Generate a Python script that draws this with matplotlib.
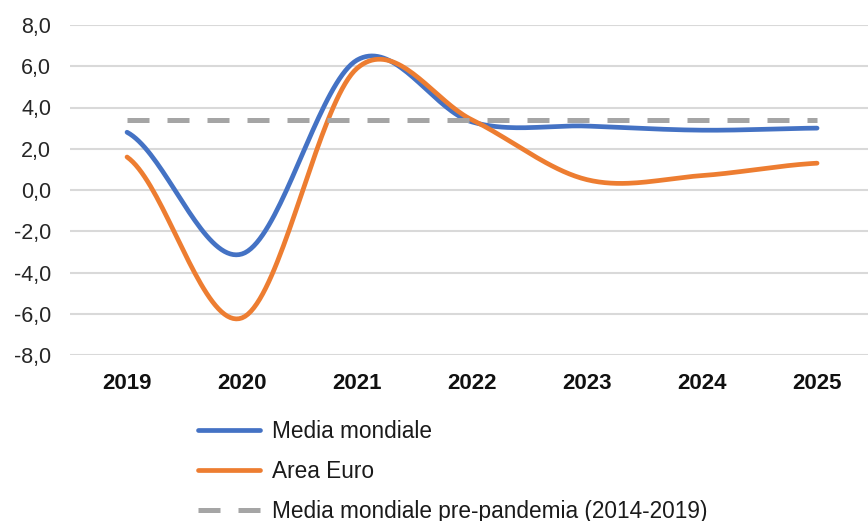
import numpy as np
from matplotlib import pyplot as plt

plt.rcParams['font.family'] = ['Liberation Sans', 'DejaVu Sans']

# dati
anni = ['2019', '2020', '2021', '2022', '2023', '2024', '2025']
media_mondiale = [2.8, -3.1, 6.3, 3.3, 3.1, 2.9, 3.0]
area_euro = [1.6, -6.2, 5.9, 3.4, 0.5, 0.7, 1.3]
pre_pandemia = [3.4, 3.4, 3.4, 3.4, 3.4, 3.4, 3.4]
y_ticks = [-8, -6, -4, -2, 0, 2, 4, 6, 8]


def smooth(y, n=40):
    """linea smussata tipo Excel (Catmull-Rom / Bezier)"""
    y = np.asarray(y, dtype=float)
    x = np.arange(len(y), dtype=float)
    xs, ys = [], []
    for i in range(len(y) - 1):
        p0 = y[max(i - 1, 0)]
        p1, p2 = y[i], y[i + 1]
        p3 = y[min(i + 2, len(y) - 1)]
        c1 = p1 + (p2 - p0) / 6
        c2 = p2 - (p3 - p1) / 6
        t = np.linspace(0, 1, n)
        b = (1 - t) ** 3 * p1 + 3 * (1 - t) ** 2 * t * c1 + 3 * (1 - t) * t ** 2 * c2 + t ** 3 * p2
        xs.append(x[i] + t)
        ys.append(b)
    return np.concatenate(xs), np.concatenate(ys)


fig = plt.figure(figsize=(8.68, 5.21), dpi=100)
ax = fig.add_axes([70 / 868, 166 / 521, 1 - 70 / 868, 330 / 521])

ax.set_ylim(-8, 8)
ax.set_xlim(-0.496, 6.443)
ax.set_yticks(y_ticks)
ax.set_yticklabels([f'{v:.1f}'.replace('.', ',') for v in y_ticks], fontsize=15.5, color='#262626')
ax.set_xticks(range(len(anni)))
ax.set_xticklabels(anni, fontsize=16, fontweight='bold', color='#111111')
ax.tick_params(axis='both', length=0)
ax.tick_params(axis='y', pad=13.5)
ax.tick_params(axis='x', pad=13)
ax.grid(axis='y', color='#d9d9d9', linewidth=1.5)
ax.set_axisbelow(True)
for s in ax.spines.values():
    s.set_visible(False)

x, y = smooth(media_mondiale)
ax.plot(x, y, color='#4472C4', linewidth=3.4, solid_capstyle='round', label='Media mondiale')
x, y = smooth(area_euro)
ax.plot(x, y, color='#ED7D31', linewidth=3.4, solid_capstyle='round', label='Area Euro')
ax.plot(range(len(anni)), pre_pandemia, color='#A5A5A5', linewidth=3.6,
        linestyle=(0, (4.4, 3.6)), label='Media mondiale pre-pandemia (2014-2019)')

leg = fig.legend(loc='upper left', bbox_to_anchor=(198 / 868, 1 - 420 / 521), frameon=False,
                 fontsize=16.3, handlelength=2.75, handletextpad=0.5, labelspacing=0.74,
                 borderaxespad=0, borderpad=0)
for t in leg.get_texts():
    t.set_color('#1a1a1a')

fig.savefig('out.png', dpi=100)
